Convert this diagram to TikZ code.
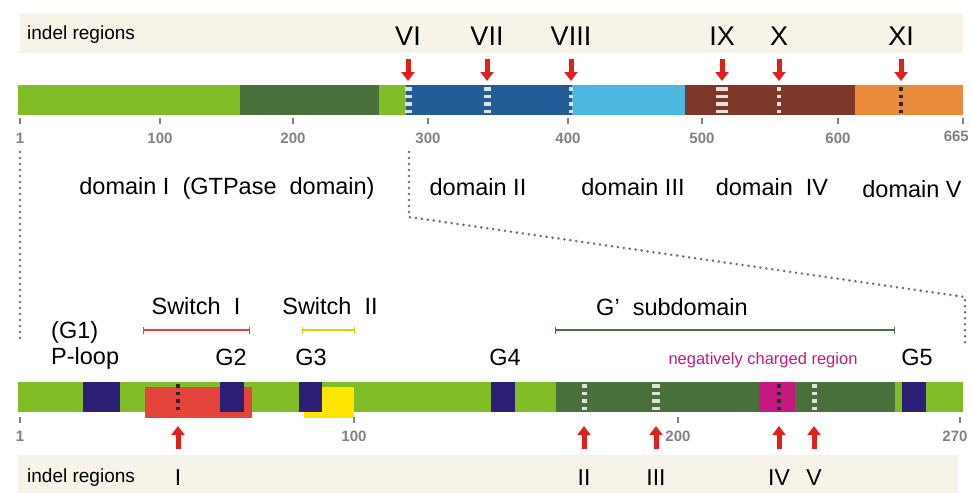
\documentclass[tikz,border=0pt]{standalone}
\usepackage{fontspec}
\setmainfont{Liberation Sans}
\usetikzlibrary{arrows.meta}

\definecolor{lgreen}{RGB}{128,189,39}
\definecolor{dgreen}{RGB}{74,113,59}
\definecolor{dblue}{RGB}{35,92,150}
\definecolor{lblue}{RGB}{78,183,224}
\definecolor{brownd}{RGB}{124,56,40}
\definecolor{oranged}{RGB}{234,139,60}
\definecolor{navy}{RGB}{45,30,118}
\definecolor{redbox}{RGB}{228,68,60}
\definecolor{yellowbox}{RGB}{255,230,0}
\definecolor{magbox}{RGB}{196,26,128}
\definecolor{beige}{RGB}{247,243,233}
\definecolor{arrowred}{RGB}{224,32,26}
\definecolor{tickgray}{RGB}{130,130,130}
\definecolor{dotgray}{RGB}{110,110,110}
\definecolor{markgray}{RGB}{225,225,225}
\definecolor{markdark}{RGB}{40,40,50}

\tikzset{
  romlbl/.style={font=\fontsize{27}{30}\selectfont, inner sep=0pt},
  romlblb/.style={font=\fontsize{23}{26}\selectfont, inner sep=0pt},
  domlbl/.style={font=\fontsize{23.5}{27}\selectfont, inner sep=0pt},
  indlbl/.style={font=\fontsize{19}{22}\selectfont, inner sep=0pt, anchor=west},
  ticklbl/.style={font=\fontsize{15}{17}\bfseries\selectfont, text=tickgray, inner sep=0pt},
  tick/.style={draw=tickgray, line width=1.1pt},
  indelarrow/.style={color=arrowred, line width=5pt, -{Triangle[width=13pt,length=9pt]}},
  wmark/.style={draw=markgray, dash pattern=on 3.5pt off 4pt, dash phase=5.5pt},
  kmark/.style={draw=markdark, line width=3.5pt, dash pattern=on 3.5pt off 4pt, dash phase=5.5pt},
  zoomline/.style={draw=dotgray, line width=2.8pt, line cap=round, dash pattern=on 0pt off 6pt},
  rangeline/.style={line width=1.6pt, {Bar[width=7pt,line width=1.3pt]}-{Bar[width=7pt,line width=1.3pt]}}
}

\begin{document}
\begin{tikzpicture}[x=1pt,y=-1pt]
  \useasboundingbox (0,0) rectangle (970,493);
  \fill[beige] (20,13) rectangle (963,53);
  \fill[beige] (18,455) rectangle (958,500);
  \node[indlbl] (indtop) at (27,35) {indel regions};
  \node[indlbl] (indbot) at (27,478) {indel regions};

  \node[romlbl] (r6) at (408,36) {VI};
  \node[romlbl] (r7) at (487,36) {VII};
  \node[romlbl] (r8) at (571,36) {VIII};
  \node[romlbl] (r9) at (722,36) {IX};
  \node[romlbl] (r10) at (779,36) {X};
  \node[romlbl] (r11) at (901,36) {XI};

  \fill[lgreen] (18,85) rectangle (240,115);
  \fill[dgreen] (240,85) rectangle (379,115);
  \fill[lgreen] (379,85) rectangle (406,115);
  \fill[dblue] (406,85) rectangle (572,115);
  \fill[lblue] (572,85) rectangle (685,115);
  \fill[brownd] (685,85) rectangle (855,115);
  \fill[oranged] (855,85) rectangle (963,115);

  \draw[wmark, line width=7pt] (408,85) -- (408,115);
  \draw[wmark, line width=7pt] (487,85) -- (487,115);
  \draw[wmark, line width=4.5pt] (571,85) -- (571,115);
  \draw[wmark, line width=12pt] (722,85) -- (722,115);
  \draw[wmark, line width=4.5pt] (779,85) -- (779,115);
  \draw[kmark] (901,85) -- (901,115);

  \coordinate (s6) at (408,59);  \coordinate (t6) at (408,81);
  \coordinate (s7) at (487,59);  \coordinate (t7) at (487,81);
  \coordinate (s8) at (571,59);  \coordinate (t8) at (571,81);
  \coordinate (s9) at (722,59);  \coordinate (t9) at (722,81);
  \coordinate (s10) at (779,59); \coordinate (t10) at (779,81);
  \coordinate (s11) at (901,59); \coordinate (t11) at (901,81);
  \path[indelarrow] (s6) edge (t6);
  \path[indelarrow] (s7) edge (t7);
  \path[indelarrow] (s8) edge (t8);
  \path[indelarrow] (s9) edge (t9);
  \path[indelarrow] (s10) edge (t10);
  \path[indelarrow] (s11) edge (t11);

  \draw[tick] (20,118) -- (20,124);
  \draw[tick] (160,118) -- (160,124);
  \draw[tick] (293,118) -- (293,124);
  \draw[tick] (428,118) -- (428,124);
  \draw[tick] (568,118) -- (568,124);
  \draw[tick] (702,118) -- (702,124);
  \draw[tick] (838,118) -- (838,124);
  \draw[tick] (963,118) -- (963,124);
  \node[ticklbl] (n1) at (20,138) {1};
  \node[ticklbl] (n100) at (160,138) {100};
  \node[ticklbl] (n200) at (293,138) {200};
  \node[ticklbl] (n300) at (428,138) {300};
  \node[ticklbl] (n400) at (568,138) {400};
  \node[ticklbl] (n500) at (702,138) {500};
  \node[ticklbl] (n600) at (838,138) {600};
  \node[ticklbl, anchor=east] (n665) at (969,136) {665};

  \node[domlbl] (d1) at (227,188) {domain I\ \ (GTPase\ \ domain)};
  \node[domlbl] (d2) at (478,187) {domain II};
  \node[domlbl] (d3) at (633,187) {domain III};
  \node[domlbl] (d4) at (772,187) {domain\ \ IV};
  \node[domlbl] (d5) at (912,189) {domain V};

  \coordinate (zl1) at (20,152);
  \coordinate (zl2) at (20,343);
  \coordinate (zr1) at (409,152);
  \coordinate (zr2) at (409,217);
  \coordinate (zr3) at (965,297);
  \coordinate (zr4) at (965,343);
  \draw[zoomline] (zl1) -- (zl2);
  \draw[zoomline] (zr1) -- (zr2) -- (zr3) -- (zr4);

  \node[domlbl] (sw1) at (196,306) {Switch\ \ I};
  \node[domlbl] (sw2) at (330,306) {Switch\ \ II};
  \node[domlbl] (gsub) at (672,307) {G’\ \ subdomain};
  \draw[rangeline, draw=redbox] (143,330) -- (250,330);
  \draw[rangeline, draw=yellowbox!90!black] (302,330) -- (355,330);
  \draw[rangeline, draw=dgreen] (555,330) -- (895,330);
  \node[domlbl, anchor=west] (g1) at (51,332) {(G1)};
  \node[domlbl, anchor=west] (ploop) at (51,358) {P-loop};
  \node[domlbl] (g2) at (231,357) {G2};
  \node[domlbl] (g3) at (311,357) {G3};
  \node[domlbl] (g4) at (505,357) {G4};
  \node[domlbl] (g5) at (917,357) {G5};
  \node[font=\fontsize{16.5}{19}\selectfont, text=magbox, inner sep=0pt] (neg) at (763,360) {negatively charged region};

  \fill[lgreen] (18,382) rectangle (963,412);
  \fill[redbox] (145,387) rectangle (252,418);
  \fill[yellowbox] (304,387) rectangle (354,418);
  \fill[dgreen] (556,382) rectangle (895,412);
  \fill[magbox] (759,382) rectangle (795,412);
  \fill[navy] (83,382) rectangle (120,412);
  \fill[navy] (220,382) rectangle (244,412);
  \fill[navy] (299,382) rectangle (322,412);
  \fill[navy] (491,382) rectangle (515,412);
  \fill[navy] (902,382) rectangle (926,412);

  \draw[kmark] (178,382) -- (178,412);
  \draw[wmark, line width=5pt] (584,382) -- (584,412);
  \draw[wmark, line width=8pt] (656,382) -- (656,412);
  \draw[kmark] (779,382) -- (779,412);
  \draw[wmark, line width=5pt] (814,382) -- (814,412);

  \draw[tick] (20,417) -- (20,423);
  \draw[tick] (354,417) -- (354,423);
  \draw[tick] (678,417) -- (678,423);
  \draw[tick] (960,417) -- (960,423);
  \node[ticklbl] (b1) at (20,436) {1};
  \node[ticklbl] (b100) at (354,436) {100};
  \node[ticklbl] (b200) at (678,436) {200};
  \node[ticklbl] (b270) at (955,436) {270};

  \coordinate (u1) at (178,449);  \coordinate (v1) at (178,426);
  \coordinate (u2) at (584,449);  \coordinate (v2) at (584,426);
  \coordinate (u3) at (656,449);  \coordinate (v3) at (656,426);
  \coordinate (u4) at (779,449);  \coordinate (v4) at (779,426);
  \coordinate (u5) at (814,449);  \coordinate (v5) at (814,426);
  \path[indelarrow] (u1) edge (v1);
  \path[indelarrow] (u2) edge (v2);
  \path[indelarrow] (u3) edge (v3);
  \path[indelarrow] (u4) edge (v4);
  \path[indelarrow] (u5) edge (v5);

  \node[romlblb] (q1) at (178,478) {I};
  \node[romlblb] (q2) at (584,478) {II};
  \node[romlblb] (q3) at (656,478) {III};
  \node[romlblb] (q4) at (779,478) {IV};
  \node[romlblb] (q5) at (814,478) {V};
\end{tikzpicture}
\end{document}
